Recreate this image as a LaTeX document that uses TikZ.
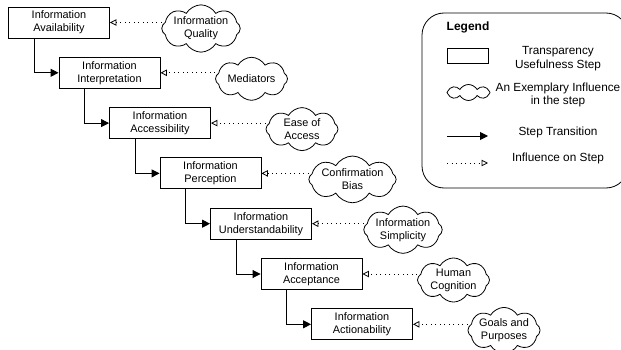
\documentclass[tikz,border=0pt]{standalone}
\usepackage{fontspec}
\setmainfont{Liberation Sans}
\usetikzlibrary{arrows.meta,shapes.symbols}

\tikzset{
  stepbox/.style={draw,line width=0.9pt,minimum width=101pt,minimum height=31pt,
    inner sep=1pt,align=center,font=\fontsize{10.9}{13}\selectfont},
  influence/.style={cloud,draw,line width=0.8pt,cloud puffs=8,cloud puff arc=120,
    cloud ignores aspect,minimum width=72pt,minimum height=43pt,inner sep=0pt,
    align=center,font=\fontsize{10.9}{13}\selectfont},
  transition/.style={line width=0.9pt,-{Triangle[length=8pt,width=8pt]}},
  effect/.style={line width=0.8pt,dash pattern=on 0.8pt off 3.7pt,
    -{Triangle[open,length=6.5pt,width=6.5pt,line width=0.8pt,sep=0pt]}},
  legendtext/.style={align=center,font=\fontsize{11.8}{13.5}\selectfont}
}

\begin{document}
\begin{tikzpicture}[x=1pt,y=-1pt]
\useasboundingbox (0,0) rectangle (621,350);
% the steps
\node[stepbox] (avail) at (59,22.5) {Information\\Availability};
\node[stepbox] (interp) at (109.5,72.8) {Information\\Interpretation};
\node[stepbox] (access) at (160,123.1) {Information\\Accessibility};
\node[stepbox] (percep) at (210.5,173.4) {Information\\Perception};
\node[stepbox] (under) at (261,223.7) {Information\\Understandability};
\node[stepbox] (accept) at (311.5,274) {Information\\Acceptance};
\node[stepbox] (action) at (362,324.3) {Information\\Actionability};
% the influences
\node[influence] (quality) at (201,28.5) {Information\\Quality};
\node[influence] (mediat) at (251.5,78.8) {Mediators};
\node[influence] (ease) at (302,129.1) {Ease of\\Access};
\node[influence] (bias) at (352.5,179.4) {Confirmation\\Bias};
\node[influence] (simpl) at (403,229.7) {Information\\Simplicity};
\node[influence] (cogn) at (453.5,280) {Human\\Cognition};
\node[influence] (goals) at (504,330.3) {Goals and\\Purposes};
% the step transitions
\draw[transition] ([xshift=-25pt]avail.south) |- (interp.west);
\draw[transition] ([xshift=-25pt]interp.south) |- (access.west);
\draw[transition] ([xshift=-25pt]access.south) |- (percep.west);
\draw[transition] ([xshift=-25pt]percep.south) |- (under.west);
\draw[transition] ([xshift=-25pt]under.south) |- (accept.west);
\draw[transition] ([xshift=-25pt]accept.south) |- (action.west);
% the influences on the steps
\draw[effect] (quality.west |- avail.east) -- (avail.east);
\draw[effect] (mediat.west |- interp.east) -- (interp.east);
\draw[effect] (ease.west |- access.east) -- (access.east);
\draw[effect] (bias.west |- percep.east) -- (percep.east);
\draw[effect] (simpl.west |- under.east) -- (under.east);
\draw[effect] (cogn.west |- accept.east) -- (accept.east);
\draw[effect] (goals.west |- action.east) -- (action.east);
% the legend
\draw[line width=0.8pt,rounded corners=22pt] (422,13) rectangle (628,188);
\node[anchor=west,inner sep=0pt,font=\fontsize{12}{14}\selectfont\bfseries] (legend) at (446.5,27) {Legend};
\node[stepbox,minimum width=41pt,minimum height=15pt] (keystep) at (467.5,55.5) {};
\node[legendtext] (keysteptext) at (558,58.5) {Transparency\\Usefulness Step};
\node[influence,minimum width=43pt,minimum height=16pt] (keyinfl) at (468.5,92.5) {};
\node[legendtext] (keyinfltext) at (558,95) {An Exemplary Influence\\in the step};
\coordinate (transa) at (447,136);
\coordinate (transb) at (488,136);
\draw[transition] (transa) -- (transb);
\node[legendtext] (transtext) at (558,132) {Step Transition};
\coordinate (infla) at (447,163);
\coordinate (inflb) at (488,163);
\draw[effect] (infla) -- (inflb);
\node[legendtext] (infltext) at (558,158.5) {Influence on Step};
\end{tikzpicture}
\end{document}
